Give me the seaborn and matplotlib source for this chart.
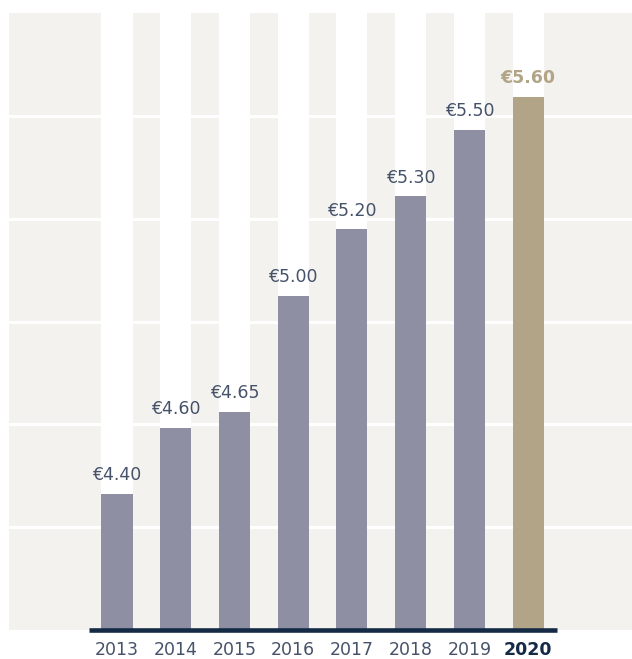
import numpy as np
import pandas as pd
import matplotlib
matplotlib.use("Agg")
import matplotlib.pyplot as plt
import seaborn as sns

# chart data
years = ["2013", "2014", "2015", "2016", "2017", "2018", "2019", "2020"]
prices = [4.40, 4.60, 4.65, 5.00, 5.20, 5.30, 5.50, 5.60]
labels = ["€4.40", "€4.60", "€4.65", "€5.00", "€5.20", "€5.30", "€5.50", "€5.60"]
highlight = "2020"

# colours
BG = "#f3f2ee"
BAR = "#8e8fa2"
HILITE = "#b2a487"
NAVY = "#152a45"
TEXT = "#45526a"

sns.set_theme(style="white")
plt.rcParams["font.family"] = ["DejaVu Sans"]

df = pd.DataFrame({"year": years, "price": prices, "label": labels})
palette = {y: (HILITE if y == highlight else BAR) for y in years}

fig = plt.figure(figsize=(6.32, 6.59), dpi=100)
ax = fig.add_axes([9 / 632, 29 / 659, 623 / 632, 617 / 659])
ax.set_facecolor(BG)

bar_w = 0.53
ymin = 3.99
ymax = ymin + 617 / 331

# white stripes behind each bar
for i in range(len(years)):
    ax.axvspan(i - bar_w / 2, i + bar_w / 2, color="white", zorder=0.5, lw=0)

# horizontal white gridlines
for y in np.linspace(ymin, ymax, 7)[1:-1]:
    ax.axhline(y, color="white", lw=2.2, zorder=0.6)

sns.barplot(data=df, x="year", y="price", hue="year", palette=palette,
            legend=False, width=bar_w, saturation=1, linewidth=0,
            ax=ax, zorder=2)

ax.set_xlim(-1.84, 8.77)
ax.set_ylim(ymin, ymax)

# baseline
ax.plot([-0.48, 7.5], [ymin, ymin], color=NAVY, lw=3.3, solid_capstyle="butt",
        clip_on=False, zorder=3)

# value labels
for i, row in df.iterrows():
    hl = row["year"] == highlight
    ax.annotate(row["label"], (i, row["price"]), xytext=(0, 10),
                textcoords="offset points", ha="center", va="baseline",
                fontsize=12.5, color=HILITE if hl else TEXT,
                fontweight="bold" if hl else "normal")

ax.set_xlabel("")
ax.set_ylabel("")
ax.set_yticks([])
ax.tick_params(axis="x", length=0, pad=8)
for t in ax.get_xticklabels():
    t.set_fontsize(12.5)
    if t.get_text() == highlight:
        t.set_color(NAVY)
        t.set_fontweight("bold")
    else:
        t.set_color(TEXT)

for s in ax.spines.values():
    s.set_visible(False)

fig.savefig("out.png", dpi=100, facecolor="white")
